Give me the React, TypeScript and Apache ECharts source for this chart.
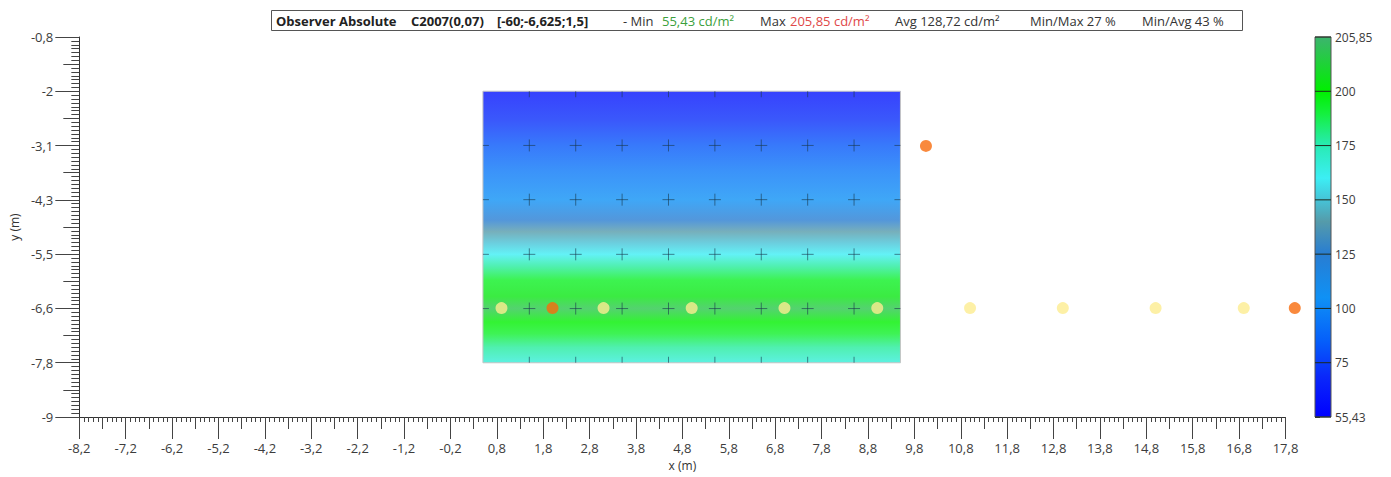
import React, { useEffect, useRef } from "react";
import * as echarts from "echarts";

// ---------- data ----------
const X_MIN = -8.2;
const X_MAX = 17.8;
const Y_MIN = -9;
const Y_MAX = -0.8;
const yTickLabels = ["-9", "-7,8", "-6,6", "-5,5", "-4,3", "-3,1", "-2", "-0,8"];

const colorbarLabels = ["55,43", "75", "100", "125", "150", "175", "200", "205,85"];
const colorbarLabelValues = [55.43, 75, 100, 125, 150, 175, 200, 205.85];

const colorStopValues = [55.43, 70, 85, 105, 125, 140, 150, 160, 175, 190, 200, 205.85];
const colorStopColors = [
  [0, 0, 255], [10, 40, 250], [5, 95, 250], [15, 145, 245], [40, 125, 210], [85, 155, 170],
  [70, 195, 215], [60, 238, 244], [40, 235, 180], [20, 240, 60], [0, 240, 0], [60, 180, 110],
];

const heatX = [0.5, 9.5];
const heatY = [-7.83, -1.97];
const heatProfileY = [-1.97, -2.6, -3.14, -3.7, -4.31, -4.75, -5.0, -5.25, -5.49, -5.75, -6.05, -6.4, -6.66, -6.95, -7.2, -7.5, -7.83];
const heatProfileValue = [62, 72, 83, 95, 105, 125, 140, 150, 160, 178, 194, 201, 204, 200, 193, 178, 166];

const crossXs = [0.5, 1.5, 2.5, 3.5, 4.5, 5.5, 6.5, 7.5, 8.5, 9.5];
const crossYs = [-1.97, -3.14, -4.31, -5.49, -6.66, -7.83];

const lightDots = [[0.9, -6.65], [3.1, -6.65], [5, -6.65], [7, -6.65], [9, -6.65], [11, -6.65], [13, -6.65], [15, -6.65], [16.9, -6.65]];
const orangeDots = [[2, -6.65], [10.05, -3.15], [18, -6.65]];

const statMin = "55,43 cd/m²";
const statMax = "205,85 cd/m²";
const statAvg = "128,72 cd/m²";
const statMinMax = "27 %";
const statMinAvg = "43 %";

// ---------- helpers ----------
const FONT = "'Open Sans', 'Noto Sans', sans-serif";
const toU = (x: number) => x - X_MIN;
const toV = (y: number) => ((y - Y_MIN) * 7) / (Y_MAX - Y_MIN);

function colorOf(v: number, alpha = 1) {
  let i = 0;
  while (i < colorStopValues.length - 2 && v > colorStopValues[i + 1]) i++;
  const t = Math.max(0, Math.min(1, (v - colorStopValues[i]) / (colorStopValues[i + 1] - colorStopValues[i])));
  const a = colorStopColors[i], b = colorStopColors[i + 1];
  const c = a.map((x, k) => Math.round(x + (b[k] - x) * t));
  return `rgba(${c[0]},${c[1]},${c[2]},${alpha})`;
}
function cbPos(v: number) {
  let i = 0;
  while (i < colorbarLabelValues.length - 2 && v > colorbarLabelValues[i + 1]) i++;
  const t = (v - colorbarLabelValues[i]) / (colorbarLabelValues[i + 1] - colorbarLabelValues[i]);
  return (i + t) / (colorbarLabelValues.length - 1);
}

export default function App() {
  const ref = useRef<HTMLDivElement>(null);
  useEffect(() => {
    const chart = echarts.init(ref.current!, null, { renderer: "svg" });
    const axisColor = "#333";
    const tickColor = "#444";
    const labelStyle = { color: "#3c3c3c", fontSize: 13, fontFamily: FONT };

    const titleY = 20.5;
    const t = (x: number, text: string, color = "#333", bold = false) => ({
      type: "text", x, y: titleY,
      style: { text, fill: color, font: `${bold ? "bold " : ""}13px ${FONT}`, textVerticalAlign: "middle" },
      z: 10,
    });

    const option: any = {
      animation: false,
      backgroundColor: "#fff",
      grid: [
        { left: 77, top: 37, width: 1208.5, height: 380 },
        { left: 1315, top: 37, width: 16, height: 380 },
      ],
      xAxis: [
        {
          type: "value", gridIndex: 0, min: 0, max: toU(X_MAX), interval: 1, position: "bottom",
          axisLine: { show: true, onZero: false, lineStyle: { color: axisColor } },
          axisTick: { show: true, length: 22, lineStyle: { color: tickColor } },
          minorTick: { show: true, splitNumber: 10, length: 5, lineStyle: { color: tickColor } },
          axisLabel: { ...labelStyle, margin: 24, formatter: (u: number) => (u + X_MIN).toFixed(1).replace(".", ",") },
          splitLine: { show: false },
          name: "x (m)", nameLocation: "middle", nameGap: 42,
          nameTextStyle: { color: "#333", fontSize: 12, fontFamily: FONT },
        },
        {
          type: "value", gridIndex: 0, min: 0, max: toU(X_MAX), interval: 0.5, position: "bottom",
          axisLine: { show: false, onZero: false },
          axisTick: { show: true, length: 12, lineStyle: { color: tickColor } },
          axisLabel: { show: false }, splitLine: { show: false },
        },
        { type: "value", gridIndex: 1, min: 0, max: 1, show: false },
      ],
      yAxis: [
        {
          type: "value", gridIndex: 0, min: 0, max: 7, interval: 1, position: "left",
          axisLine: { show: true, onZero: false, lineStyle: { color: axisColor } },
          axisTick: { show: true, length: 24, lineStyle: { color: tickColor } },
          minorTick: { show: true, splitNumber: 14, length: 8, lineStyle: { color: tickColor } },
          axisLabel: { ...labelStyle, margin: 26, formatter: (v: number) => yTickLabels[Math.round(v)] },
          splitLine: { show: false },
          name: "y (m)", nameLocation: "middle", nameGap: 52,
          nameTextStyle: { color: "#333", fontSize: 12, fontFamily: FONT },
        },
        {
          type: "value", gridIndex: 0, min: 0, max: 7, interval: 0.5, position: "left",
          axisLine: { show: false, onZero: false },
          axisTick: { show: true, length: 16, lineStyle: { color: tickColor } },
          axisLabel: { show: false }, splitLine: { show: false },
        },
        {
          type: "value", gridIndex: 1, min: 0, max: 7, interval: 1, position: "right",
          axisLine: { show: false },
          axisTick: { show: true, length: 5, lineStyle: { color: "#333" } },
          axisLabel: { ...labelStyle, fontSize: 12, margin: 4, formatter: (v: number) => colorbarLabels[Math.round(v)] },
          splitLine: { show: false },
        },
      ],
      graphic: [
        { type: "rect", shape: { x: 271.5, y: 10.5, width: 971, height: 20 }, style: { fill: "#fff", stroke: "#555", lineWidth: 1 }, z: 9 },
        t(276, "Observer Absolute", "#222", true),
        t(411, "C2007(0,07)", "#222", true),
        t(497, "[-60;-6,625;1,5]", "#222", true),
        t(623, "- Min", "#333"),
        t(662, statMin, "#3c9f3c"),
        t(760, "Max", "#333"),
        t(790, statMax, "#e04848"),
        t(895, "Avg " + statAvg, "#333"),
        t(1030, "Min/Max " + statMinMax, "#333"),
        t(1142, "Min/Avg " + statMinAvg, "#333"),
      ],
      series: [
        {
          type: "custom", xAxisIndex: 0, yAxisIndex: 0, z: 1, silent: true,
          data: [[toU(heatX[0]), toV(heatY[0])]],
          renderItem: (_p: any, api: any) => {
            const a = api.coord([toU(heatX[0]), toV(heatY[1])]);
            const b = api.coord([toU(heatX[1]), toV(heatY[0])]);
            const stops = heatProfileY.map((y, i) => ({
              offset: (heatY[1] - y) / (heatY[1] - heatY[0]),
              color: colorOf(heatProfileValue[i], 0.8),
            }));
            return {
              type: "rect",
              shape: { x: a[0], y: a[1], width: b[0] - a[0], height: b[1] - a[1] },
              style: { fill: new echarts.graphic.LinearGradient(0, 0, 0, 1, stops), stroke: "#c4c4c4", lineWidth: 1 },
            };
          },
        },
        {
          type: "custom", xAxisIndex: 0, yAxisIndex: 0, z: 2, silent: true,
          data: crossXs.flatMap((x) => crossYs.map((y) => [toU(x), toV(y)])),
          encode: { x: 0, y: 1 },
          renderItem: (_p: any, api: any) => {
            const a = api.coord([toU(heatX[0]), toV(heatY[1])]);
            const b = api.coord([toU(heatX[1]), toV(heatY[0])]);
            const p = api.coord([api.value(0), api.value(1)]);
            const h = 6;
            const st = { stroke: "rgba(25,55,75,0.6)", lineWidth: 1 };
            const onVEdge = p[0] <= a[0] + 0.5 || p[0] >= b[0] - 0.5;
            const onHEdge = p[1] <= a[1] + 0.5 || p[1] >= b[1] - 0.5;
            return {
              type: "group",
              children: [
                { type: "line", shape: { x1: Math.max(p[0] - h, a[0]), y1: p[1], x2: Math.min(p[0] + h, b[0]), y2: p[1] }, style: st, invisible: onHEdge },
                { type: "line", shape: { x1: p[0], y1: Math.max(p[1] - h, a[1]), x2: p[0], y2: Math.min(p[1] + h, b[1]) }, style: st, invisible: onVEdge },
              ],
            };
          },
        },
        {
          type: "scatter", xAxisIndex: 0, yAxisIndex: 0, z: 3, clip: false, symbolSize: 12,
          itemStyle: { color: "#fdec90" },
          data: lightDots.map(([x, y]) => [toU(x), toV(y)]),
        },
        {
          type: "scatter", xAxisIndex: 0, yAxisIndex: 0, z: 3, clip: false, symbolSize: 12,
          itemStyle: { color: "#f76c0c" },
          data: orangeDots.map(([x, y]) => [toU(x), toV(y)]),
        },
        {
          type: "custom", xAxisIndex: 2, yAxisIndex: 2, z: 2, silent: true,
          data: [[0, 0]],
          renderItem: (_p: any, api: any) => {
            const a = api.coord([0, 7]);
            const b = api.coord([1, 0]);
            const stops = colorStopValues.map((v) => ({ offset: cbPos(v), color: colorOf(v) }));
            const lines = colorbarLabels.map((_, i) => {
              const y = api.coord([0, i])[1];
              return { type: "line", shape: { x1: a[0], y1: y, x2: b[0], y2: y }, style: { stroke: "#1e2a1e", lineWidth: 1 } };
            });
            return {
              type: "group",
              children: [
                {
                  type: "rect",
                  shape: { x: a[0], y: a[1], width: b[0] - a[0], height: b[1] - a[1] },
                  style: { fill: new echarts.graphic.LinearGradient(0, 1, 0, 0, stops), stroke: "#555", lineWidth: 1 },
                },
                ...lines,
              ],
            };
          },
        },
      ],
    };
    chart.setOption(option);
    return () => chart.dispose();
  }, []);
  return <div ref={ref} style={{ position: "fixed", left: 0, top: 0, width: 1391, height: 477 }} />;
}
